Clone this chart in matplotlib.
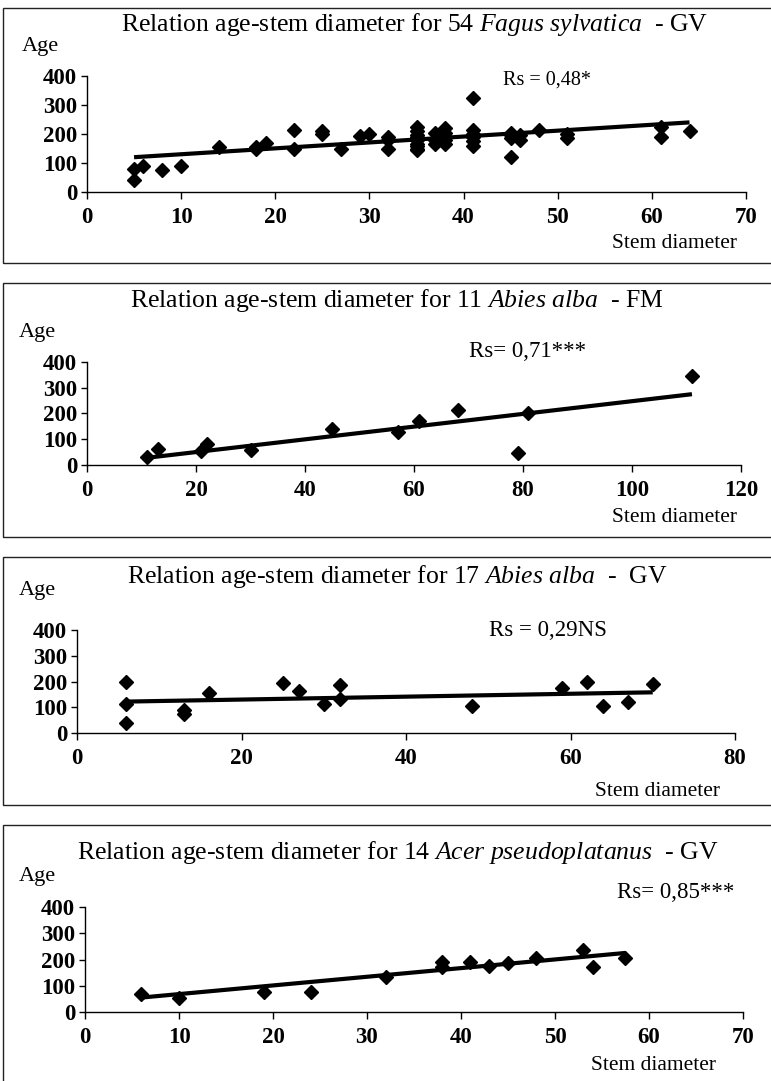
import matplotlib
matplotlib.use("Agg")
import matplotlib.pyplot as plt
from matplotlib.patches import Rectangle

plt.rcParams['font.family'] = ['Liberation Serif', 'DejaVu Serif']
plt.rcParams['mathtext.fontset'] = 'custom'
plt.rcParams['mathtext.rm'] = 'Liberation Serif'
plt.rcParams['mathtext.it'] = 'Liberation Serif:italic'

# ---------------- data ----------------
fagus_diam = [5, 5, 6, 8, 10, 14, 18, 18, 19, 22, 22, 25, 25, 27, 29, 30, 32, 32, 32,
              35, 35, 35, 35, 35, 35, 35, 35, 35, 37, 37, 37, 38, 38, 38, 38, 38,
              41, 41, 41, 41, 41, 41, 45, 45, 45, 45, 46, 46, 48, 51, 51, 61, 61, 64]
fagus_age = [40, 80, 90, 75, 90, 155, 155, 150, 170, 215, 150, 210, 200, 150, 193, 200, 190, 180, 150,
             225, 210, 195, 180, 165, 150, 145, 160, 190, 205, 180, 165, 220, 205, 190, 165, 180,
             325, 215, 175, 160, 190, 200, 205, 185, 120, 195, 195, 180, 215, 200, 185, 225, 190, 210]
fagus_trend_x = [5, 64]
fagus_trend_y = [120, 240]

abies_fm_diam = [11, 13, 21, 22, 30, 45, 57, 61, 68, 79, 81, 111]
abies_fm_age = [30, 62, 55, 80, 60, 140, 130, 170, 215, 45, 200, 345]
abies_fm_trend_x = [11, 111]
abies_fm_trend_y = [28, 275]

abies_gv_diam = [6, 6, 6, 13, 13, 16, 25, 27, 30, 32, 32, 48, 59, 62, 64, 67, 70]
abies_gv_age = [200, 113, 38, 90, 75, 155, 193, 162, 114, 185, 133, 105, 175, 198, 105, 120, 190]
abies_gv_trend_x = [6, 70]
abies_gv_trend_y = [122, 158]

acer_diam = [6, 10, 19, 24, 32, 38, 38, 41, 43, 45, 48, 53, 54, 57.5]
acer_age = [70, 55, 75, 75, 135, 190, 172, 190, 175, 185, 205, 235, 172, 205]
acer_trend_x = [6, 57.5]
acer_trend_y = [55, 225]

titles = [r"Relation age-stem diameter for 54 $\mathit{Fagus\ sylvatica}$  - GV",
          r"Relation age-stem diameter for 11 $\mathit{Abies\ alba}$  - FM",
          r"Relation age-stem diameter for 17 $\mathit{Abies\ alba}$  -  GV",
          r"Relation age-stem diameter for 14 $\mathit{Acer\ pseudoplatanus}$  - GV"]
rs_labels = ["Rs = 0,48*", "Rs= 0,71***", "Rs = 0,29NS", "Rs= 0,85***"]
x_maxes = [70, 120, 80, 70]
x_steps = [10, 20, 20, 10]
y_ticks = [0, 100, 200, 300, 400]

series = [(fagus_diam, fagus_age, fagus_trend_x, fagus_trend_y),
          (abies_fm_diam, abies_fm_age, abies_fm_trend_x, abies_fm_trend_y),
          (abies_gv_diam, abies_gv_age, abies_gv_trend_x, abies_gv_trend_y),
          (acer_diam, acer_age, acer_trend_x, acer_trend_y)]

# ---------------- layout (pixels) ----------------
W, H = 771, 1081
fig = plt.figure(figsize=(W / 100, H / 100), dpi=100)
fig.patch.set_facecolor('white')

layouts = [
    dict(bt=8, bb=263, l=87, r=746, y0=192, y4=76, ty=24, tx=415, ax_=40, ay=46, rx=547, ry=80, rfs=14.5, sdr=737, sdy=244),
    dict(bt=283, bb=537, l=87, r=741, y0=465, y4=362, ty=300, tx=397, ax_=37, ay=333, rx=528, ry=352, rfs=16.5, sdr=737, sdy=517),
    dict(bt=557, bb=805, l=77, r=735, y0=733, y4=630, ty=577, tx=397, ax_=37, ay=590, rx=548, ry=630, rfs=16.5, sdr=720, sdy=792),
    dict(bt=825, bb=1100, l=85, r=743, y0=1012, y4=907, ty=853, tx=398, ax_=37, ay=877, rx=676, ry=893, rfs=16.5, sdr=716, sdy=1066),
]

def fx(x):
    return x / W

def fy(y):
    return 1 - y / H

tick_font = dict(family='Liberation Serif', weight='bold', size=16.5)

for i, L in enumerate(layouts):
    fig.patches.append(Rectangle((fx(3), fy(L['bb'])), fx(W + 10), (L['bb'] - L['bt']) / H,
                                 transform=fig.transFigure, fill=False, edgecolor='#222222',
                                 linewidth=1.0))
    ax = fig.add_axes([fx(L['l']), fy(L['y0']), (L['r'] - L['l']) / W, (L['y0'] - L['y4']) / H])
    d, a, tx_, ty_ = series[i]
    ax.plot(tx_, ty_, color='black', linewidth=3.0, solid_capstyle='butt', zorder=2, clip_on=False)
    ax.plot(d, a, linestyle='none', marker='D', markersize=7.5, color='black', zorder=3, clip_on=False)
    ax.set_xlim(0, x_maxes[i])
    ax.set_ylim(0, 400)
    ax.set_xticks(list(range(0, x_maxes[i] + 1, x_steps[i])))
    ax.set_yticks(y_ticks)
    for s in ['top', 'right']:
        ax.spines[s].set_visible(False)
    for s in ['left', 'bottom']:
        ax.spines[s].set_linewidth(1.0)
        ax.spines[s].set_color('black')
    ax.tick_params(axis='x', direction='out', length=5, width=1, pad=6)
    ax.tick_params(axis='y', direction='out', length=4, width=1, pad=3)
    for lab in ax.get_xticklabels() + ax.get_yticklabels():
        lab.set_fontproperties(dict(tick_font))
    ax.patch.set_alpha(0)

    fig.text(fx(L['tx']), fy(L['ty']), titles[i], ha='center', va='center', fontsize=18.5)
    fig.text(fx(L['ax_']), fy(L['ay']), "Age", ha='center', va='center', fontsize=16)
    fig.text(fx(L['rx']), fy(L['ry']), rs_labels[i], ha='center', va='center', fontsize=L['rfs'])
    fig.text(fx(L['sdr']), fy(L['sdy']), "Stem diameter", ha='right', va='center', fontsize=15.5)

fig.savefig("out.png", dpi=100, facecolor='white')
